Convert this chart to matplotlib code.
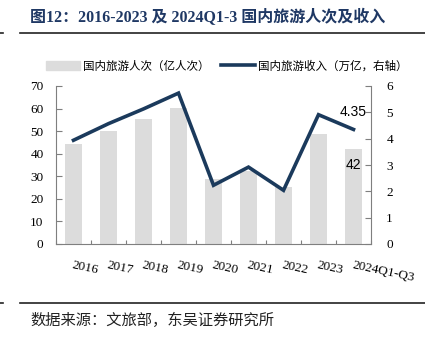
import matplotlib
matplotlib.use("Agg")
import matplotlib.pyplot as plt
from matplotlib.patches import Patch
from matplotlib.lines import Line2D
import numpy as np

# 国内旅游人次（亿人次）与国内旅游收入（万亿元）
years = ["2016", "2017", "2018", "2019", "2020", "2021", "2022", "2023", "2024Q1-Q3"]
trips = [44.4, 50.0, 55.4, 60.1, 28.8, 32.5, 25.3, 48.9, 42.0]
revenue = [3.94, 4.57, 5.13, 5.73, 2.23, 2.92, 2.04, 4.91, 4.35]

SERIF = ["Liberation Serif", "Noto Sans CJK SC"]
CJK = ["Noto Sans CJK SC", "DejaVu Sans"]
navy = "#1b3a5c"
bar_grey = "#dcdcdc"
spine_grey = "#7f7f7f"

fig = plt.figure(figsize=(4.25, 3.43), dpi=100)
W, H = 425, 343

def fx(px):
    return px / W

def fy(py):
    return 1 - py / H

# 标题与分隔线
fig.text(fx(30), fy(18), "图12：2016-2023 及 2024Q1-3 国内旅游人次及收入",
         family=SERIF, weight="bold", fontsize=11.5, color="#1f3864", va="center")
for yy in (33, 303):
    fig.add_artist(Line2D([fx(20), 1], [fy(yy), fy(yy)], color="#222222", lw=1.2))
    fig.add_artist(Line2D([0, fx(3)], [fy(yy), fy(yy)], color="#222222", lw=1.2))
fig.text(fx(30), fy(320), "数据来源：文旅部，东吴证券研究所", family=CJK,
         fontsize=11, color="#222222", va="center")

ax = fig.add_axes([fx(56), fy(244), fx(371) - fx(56), fy(86) - fy(244)])
ax2 = ax.twinx()

x = np.arange(len(years))
ax.bar(x, trips, width=0.5, color=bar_grey, zorder=1)
ax2.plot(x, revenue, color=navy, lw=2.6, solid_joinstyle="miter", zorder=3)

ax.set_xlim(-0.5, len(years) - 0.5)
ax.set_ylim(0, 70)
ax.set_yticks(range(0, 71, 10))
ax2.set_ylim(0, 6)
ax2.set_yticks(range(0, 7))

# 数据标注
ax.text(x[-1], 35, f"{trips[-1]:.0f}", ha="center", va="center",
        family="Liberation Sans", fontsize=10)
ax2.text(x[-1], 5.03, f"{revenue[-1]:.2f}", ha="center", va="center",
         family="Liberation Sans", fontsize=10)

for a in (ax, ax2):
    a.spines["top"].set_visible(False)
    for s in a.spines.values():
        s.set_color(spine_grey)
        s.set_linewidth(0.8)
ax.spines["right"].set_visible(False)
ax2.spines["left"].set_visible(False)
ax2.spines["bottom"].set_visible(False)

ax.tick_params(axis="y", direction="in", length=4, width=0.8, color=spine_grey,
               labelsize=9.5, pad=9)
ax2.tick_params(axis="y", direction="in", length=4, width=0.8, color=spine_grey,
                labelsize=9.5, pad=11)
for lab in ax.get_yticklabels() + ax2.get_yticklabels():
    lab.set_family("Liberation Serif")

# x 轴：类别分隔处画刻度，类别中心放标签
ax.set_xticks(x)
ax.set_xticklabels(years, rotation=-12, ha="left", rotation_mode="anchor",
                   family="Liberation Serif", fontsize=9.5)
ax.set_xticks(np.arange(-0.5, len(years), 1), minor=True)
ax.tick_params(axis="x", which="major", length=0, pad=11)
ax.tick_params(axis="x", which="minor", direction="in", length=3, width=0.8,
               color=spine_grey)

# 图例
handles = [Patch(color=bar_grey), Line2D([], [], color=navy, lw=2.6)]
labels = ["国内旅游人次（亿人次）", "国内旅游收入（万亿，右轴）"]
fig.legend(handles, labels, loc="center", bbox_to_anchor=(fx(227), fy(66)),
           ncol=2, frameon=False, prop={"family": CJK, "size": 8.3},
           handlelength=2.9, handletextpad=0.3, columnspacing=1.0)

fig.savefig("out.png", dpi=100)
